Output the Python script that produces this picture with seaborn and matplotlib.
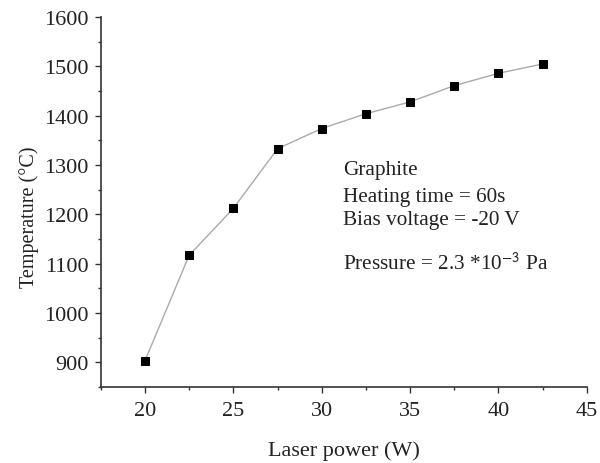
import matplotlib
matplotlib.use("Agg")
import matplotlib.pyplot as plt
import seaborn as sns
import pandas as pd
from matplotlib.ticker import MultipleLocator

laser_power = [20, 22.5, 25, 27.5, 30, 32.5, 35, 37.5, 40, 42.5]
temperature = [903, 1117, 1212, 1333, 1374, 1404, 1428, 1461, 1486, 1505]
x_ticks = [20, 25, 30, 35, 40, 45]
y_ticks = [900, 1000, 1100, 1200, 1300, 1400, 1500, 1600]

sns.set_style("ticks")
plt.rcParams['font.family'] = ['Liberation Serif', 'DejaVu Serif']
plt.rcParams['mathtext.fontset'] = 'stix'

df = pd.DataFrame({"power": laser_power, "temp": temperature})

fig = plt.figure(figsize=(6, 4.64), dpi=100)
ax = fig.add_axes([0.168, 0.164, 0.810, 0.797])

sns.lineplot(data=df, x="power", y="temp", ax=ax, color="#aaaaaa", linewidth=1.0,
             marker="s", markersize=6, markerfacecolor="black", markeredgecolor="black")

ax.set_xlim(17.5, 45)
ax.set_ylim(850, 1600)
ax.set_xticks(x_ticks)
ax.set_yticks(y_ticks)
ax.xaxis.set_minor_locator(MultipleLocator(2.5))
ax.yaxis.set_minor_locator(MultipleLocator(50))
ax.tick_params(axis="both", which="major", direction="out", length=4, width=1,
               labelsize=16, colors="#333333", labelcolor="#222222")
ax.tick_params(axis="x", which="major", pad=6)
ax.tick_params(axis="y", which="major", pad=5)
ax.tick_params(axis="both", which="minor", direction="out", length=2.5, width=1,
               colors="#333333")
for s in ["left", "bottom"]:
    ax.spines[s].set_linewidth(1.2)
    ax.spines[s].set_color("#333333")
sns.despine(ax=ax)

ax.set_xlabel("Laser power (W)", fontsize=16, labelpad=14.5, color="#222222")
ax.set_ylabel("Temperature (°C)", fontsize=14.5, color="#222222")
ax.yaxis.set_label_coords(-0.128, 0.462)

fs = 15.3
x0 = 31.2
ax.text(x0, 1291, "Graphite", fontsize=fs, va="center", color="#222222")
ax.text(x0, 1237, "Heating time = 60s", fontsize=fs, va="center", color="#222222")
ax.text(x0, 1189, "Bias voltage = -20 V", fontsize=fs, va="center", color="#222222")
ax.text(x0, 1102, r"Pressure = 2.3 *10$^{\mathsf{-3}}$ Pa", fontsize=fs, va="center", color="#222222")

fig.savefig("out.png", dpi=100)
